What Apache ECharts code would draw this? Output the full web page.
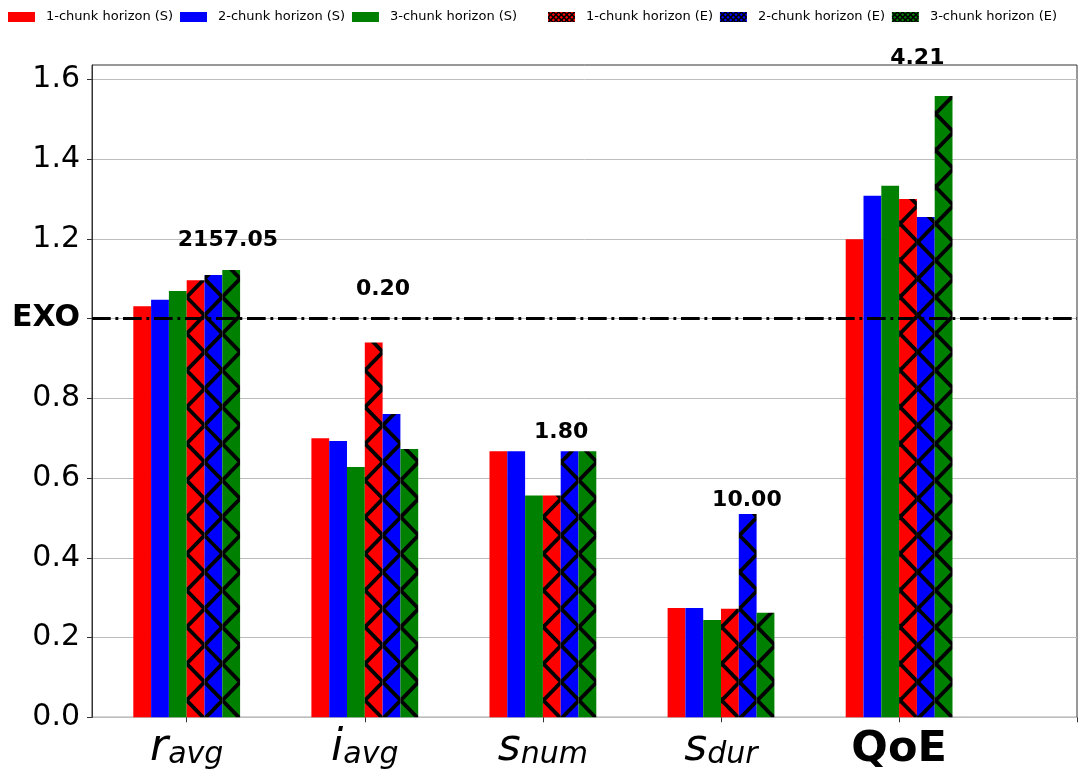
<!DOCTYPE html>
<html>
<head>
<meta charset="utf-8">
<script src="https://cdn.jsdelivr.net/npm/echarts@6/dist/echarts.min.js"></script>
<style>
  html, body { margin: 0; padding: 0; background: #fff; }
  #chart { width: 1089px; height: 776px; }
</style>
</head>
<body>
<div id="chart"></div>
<script>
// Metrics (normalised to EXO = 1.0)
const categories = ['r_avg', 'i_avg', 's_num', 's_dur', 'QoE'];
const seriesNames = [
  '1-chunk horizon (S)', '2-chunk horizon (S)', '3-chunk horizon (S)',
  '1-chunk horizon (E)', '2-chunk horizon (E)', '3-chunk horizon (E)'
];
const s1 = [1.031, 0.700, 0.667, 0.274, 1.199];
const s2 = [1.047, 0.693, 0.667, 0.274, 1.308];
const s3 = [1.069, 0.628, 0.556, 0.244, 1.333];
const e1 = [1.096, 0.940, 0.556, 0.272, 1.300];
const e2 = [1.109, 0.761, 0.667, 0.510, 1.255];
const e3 = [1.122, 0.673, 0.667, 0.262, 1.558];
const seriesValues = [s1, s2, s3, e1, e2, e3];

// EXO absolute values printed above each group, and the height they sit at
const exoAbsolute = ['2157.05', '0.20', '1.80', '10.00', '4.21'];
const exoLabelAt = [1.169, 1.047, 0.686, 0.517, 1.626];
const exoLevel = 1.0;

const yTicks = [0, 0.2, 0.4, 0.6, 0.8, 1.0, 1.2, 1.4, 1.6];
const yMax = 1.636;

const FONT = 'DejaVu Sans';
const baseColors = ['#ff0000', '#0000ff', '#008000'];

// Cross-hatch tile: colour fill with thick black diagonal lines.
function hatchTile(color, w, h, x0, y0, lw) {
  const c = document.createElement('canvas');
  c.width = w; c.height = h;
  const g = c.getContext('2d');
  g.fillStyle = color;
  g.fillRect(0, 0, w, h);
  g.strokeStyle = '#000';
  g.lineWidth = lw;
  const hu = w / 6, hv = h / 6;
  for (let m = -12; m <= 12; m++) {
    g.beginPath();
    g.moveTo(x0 - 12 * hu, y0 + (2 * m + 12) * hv);
    g.lineTo(x0 + 12 * hu, y0 + (2 * m - 12) * hv);
    g.moveTo(x0 - 12 * hu, y0 + (-12 - 2 * m) * hv);
    g.lineTo(x0 + 12 * hu, y0 + (12 - 2 * m) * hv);
    g.stroke();
  }
  return c;
}

const barFill = [
  baseColors[0], baseColors[1], baseColors[2],
  { image: hatchTile(baseColors[0], 107, 110, 8.33, 3.7, 3.8), repeat: 'repeat' },
  { image: hatchTile(baseColors[1], 107, 110, 8.33, 3.7, 3.8), repeat: 'repeat' },
  { image: hatchTile(baseColors[2], 107, 110, 8.33, 3.7, 3.8), repeat: 'repeat' }
];
const legendFill = [
  baseColors[0], baseColors[1], baseColors[2],
  { image: hatchTile(baseColors[0], 16, 16, 0, 0, 1.5), repeat: 'repeat' },
  { image: hatchTile(baseColors[1], 16, 16, 0, 0, 1.5), repeat: 'repeat' },
  { image: hatchTile(baseColors[2], 16, 16, 0, 0, 1.5), repeat: 'repeat' }
];

const legendCommon = {
  top: 10,
  padding: 0,
  icon: 'rect',
  itemWidth: 27,
  itemHeight: 10,
  itemGap: 6.8,
  selectedMode: false,
  textStyle: { fontFamily: FONT, fontSize: 13, color: '#000', padding: [0, 0, 0, 6], lineHeight: 14 }
};

const barSeries = seriesNames.map((name, i) => ({
  name,
  type: 'bar',
  xAxisIndex: 1,
  yAxisIndex: 1,
  barWidth: 17.8,
  barGap: '0%',
  data: seriesValues[i],
  itemStyle: { color: barFill[i] },
  emphasis: { disabled: true },
  z: 2
}));

const option = {
  animation: false,
  backgroundColor: '#fff',
  textStyle: { fontFamily: FONT },
  legend: [
    Object.assign({}, legendCommon, {
      left: 8,
      data: seriesNames.slice(0, 3).map((n, i) => ({ name: n, itemStyle: { color: legendFill[i] } }))
    }),
    Object.assign({}, legendCommon, {
      left: 548,
      data: seriesNames.slice(3).map((n, i) => ({ name: n, itemStyle: { color: legendFill[i + 3] } }))
    })
  ],
  grid: [
    // frame: spines, y ticks, grid lines, EXO reference line
    { left: 92, right: 12, top: 65, bottom: 58.7, show: true, borderColor: '#333', borderWidth: 1, backgroundColor: 'transparent' },
    // bars
    { left: 97.65, right: 100.85, top: 65, bottom: 58.7 }
  ],
  xAxis: [
    {
      gridIndex: 0, type: 'value', min: -0.53, max: 5,
      axisLine: { show: false, onZero: false },
      axisTick: { show: true, customValues: [5], length: 5, lineStyle: { color: '#333' } },
      axisLabel: { show: false },
      splitLine: { show: false }
    },
    {
      gridIndex: 1, type: 'category', data: categories,
      axisLine: { show: false, onZero: false },
      axisTick: { show: true, alignWithLabel: true, length: 5, lineStyle: { color: '#333' } },
      axisLabel: {
        margin: 9,
        color: '#000',
        interval: 0,
        formatter: (v) => {
          const parts = v.split('_');
          return parts.length > 1 ? `{m|${parts[0]}}{sub|${parts[1]}}` : `{q|${v}}`;
        },
        rich: {
          m: { fontFamily: FONT, fontStyle: 'italic', fontSize: 44, lineHeight: 44, verticalAlign: 'bottom', color: '#000' },
          sub: { fontFamily: FONT, fontStyle: 'italic', fontSize: 30, lineHeight: 22, verticalAlign: 'bottom', color: '#000' },
          q: { fontFamily: FONT, fontWeight: 'bold', fontSize: 43, lineHeight: 44, padding: [3, 0, 0, 0], color: '#000' }
        }
      }
    }
  ],
  yAxis: [
    {
      gridIndex: 0, type: 'value', min: 0, max: yMax, interval: 0.2,
      axisLine: { show: true, onZero: false, lineStyle: { color: '#333', width: 1 } },
      axisTick: { show: true, length: 5, customValues: yTicks, lineStyle: { color: '#333' } },
      axisLabel: {
        customValues: yTicks,
        margin: 12,
        color: '#000',
        fontFamily: FONT,
        fontSize: 30,
        formatter: (v) => Math.abs(v - exoLevel) < 1e-9 ? '{exo|EXO}' : v.toFixed(1),
        rich: { exo: { fontFamily: FONT, fontWeight: 'bold', fontSize: 30, color: '#000' } }
      },
      splitLine: { show: true, lineStyle: { color: '#bdbdbd', width: 1 } }
    },
    {
      gridIndex: 1, type: 'value', min: 0, max: yMax, show: false,
      axisLine: { show: false, onZero: false },
      axisTick: { show: false },
      axisLabel: { show: false },
      splitLine: { show: false }
    }
  ],
  series: [
    ...barSeries,
    {
      name: 'EXO',
      type: 'line',
      xAxisIndex: 0,
      yAxisIndex: 0,
      data: [[-0.53, exoLevel], [5, exoLevel]],
      symbol: 'none',
      silent: true,
      lineStyle: { color: '#000', width: 3, type: [18.7, 4.7, 2.9, 4.7] },
      z: 10
    },
    {
      name: 'EXO absolute',
      type: 'scatter',
      xAxisIndex: 1,
      yAxisIndex: 1,
      symbolSize: 0,
      silent: true,
      itemStyle: { opacity: 1 },
      data: categories.map((c, i) => [i, exoLabelAt[i]]),
      label: {
        show: true,
        position: 'top',
        distance: 0,
        align: 'left',
        offset: [-8.9, 0],
        fontFamily: FONT,
        fontWeight: 'bold',
        fontSize: 22,
        color: '#000',
        opacity: 1,
        formatter: (p) => exoAbsolute[p.dataIndex]
      },
      z: 11
    }
  ]
};

const chart = echarts.init(document.getElementById('chart'), null, { renderer: 'canvas' });
chart.setOption(option);
</script>
</body>
</html>
